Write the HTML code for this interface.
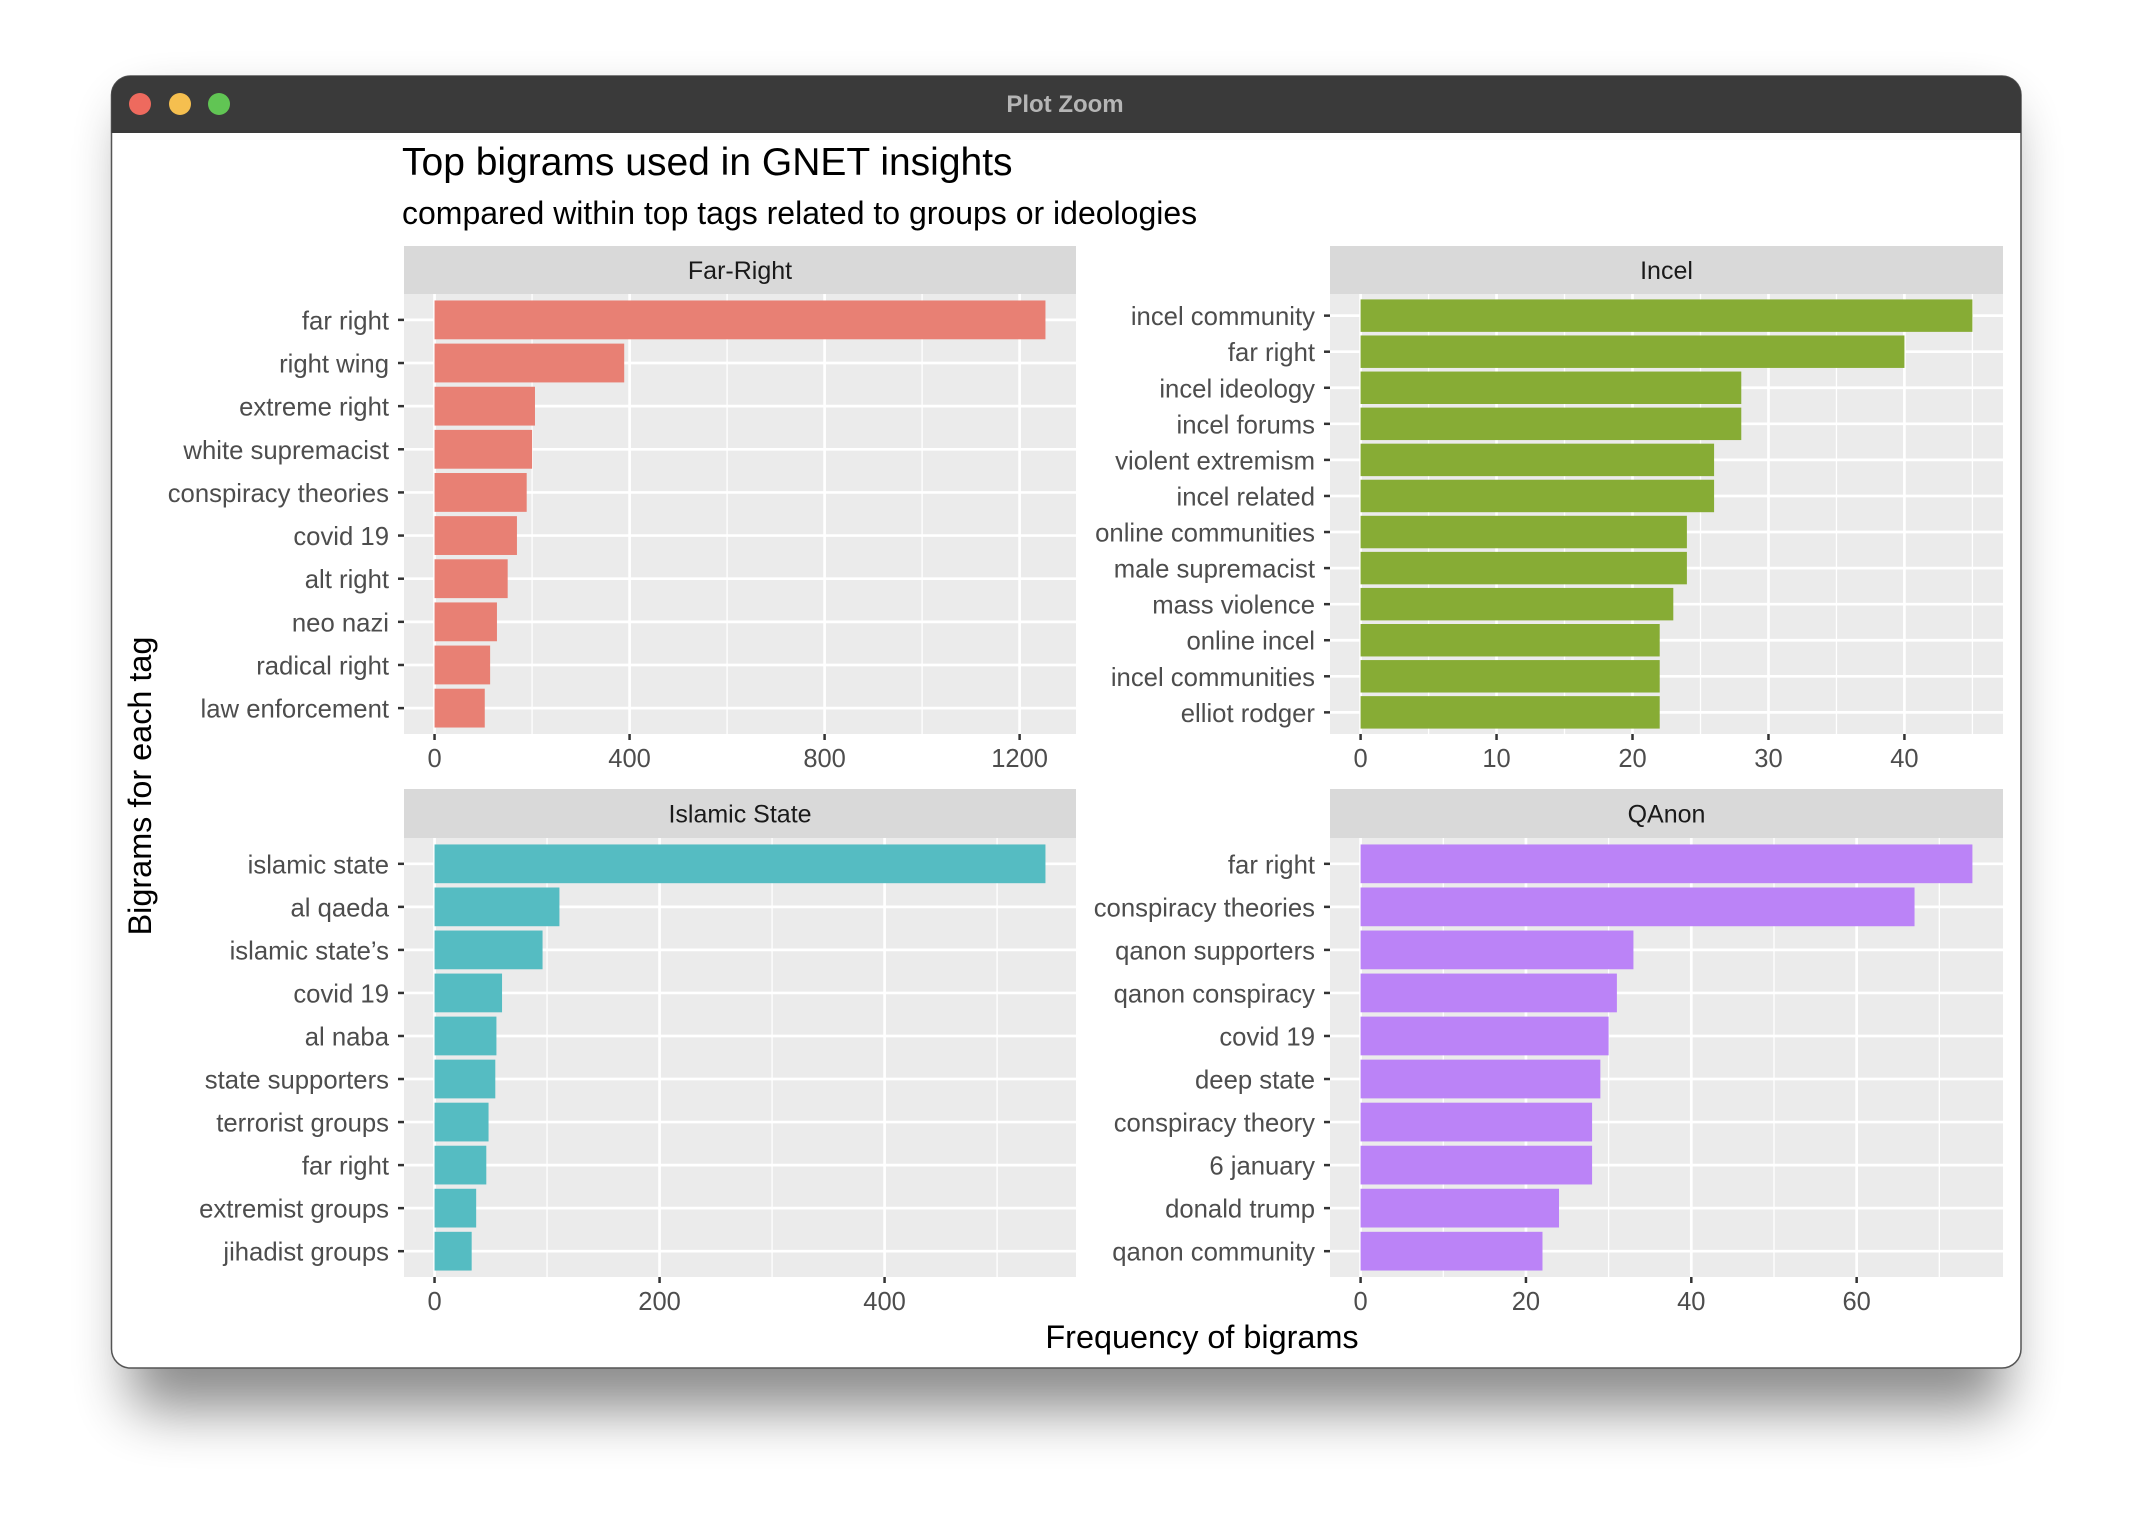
<!DOCTYPE html>
<html><head><meta charset="utf-8"><style>
html,body{margin:0;padding:0;background:#fff;}
svg{display:block;font-family:"Liberation Sans",Arial,sans-serif;}
</style></head><body>
<svg id="c" width="2132" height="1518" viewBox="0 0 2132 1518" xmlns="http://www.w3.org/2000/svg">
<defs>
<filter id="sh" x="-10%" y="-10%" width="120%" height="130%"><feGaussianBlur stdDeviation="28"/></filter>
</defs>
<rect x="130" y="110" width="1875" height="1300" rx="20" fill="#000" opacity="0.45" filter="url(#sh)"/>
<rect x="111.5" y="76" width="1909.5" height="1292" rx="19" fill="#fff" stroke="#555" stroke-width="1.5"/>
<path d="M111.5,133 V95 A19,19 0 0 1 130.5,76 H2002 A19,19 0 0 1 2021,95 V133 Z" fill="#3a3a3a"/>
<circle cx="140" cy="104" r="11" fill="#ee6a5e"/>
<circle cx="180" cy="104" r="11" fill="#f5bf4f"/>
<circle cx="219" cy="104" r="11" fill="#61c554"/>
<text x="1065" y="112" text-anchor="middle" font-size="24" font-weight="bold" fill="#b5b5b5">Plot Zoom</text>
<text x="402" y="175" font-size="39" fill="#000">Top bigrams used in GNET insights</text>
<text x="402" y="224" font-size="32" fill="#000">compared within top tags related to groups or ideologies</text>
<text x="1202" y="1348" text-anchor="middle" font-size="32.4" fill="#000">Frequency of bigrams</text>
<text transform="translate(151,786) rotate(-90)" text-anchor="middle" font-size="32.4" fill="#000">Bigrams for each tag</text>
<g id="panels"></g>
</svg>
<script>
const farRightCats = ["far right","right wing","extreme right","white supremacist","conspiracy theories","covid 19","alt right","neo nazi","radical right","law enforcement"];
const farRightVals = [1253,389,206,200,189,169,150,128,114,103];
const farRightTicks = [0,400,800,1200];
const farRightMinor = [200,600,1000];
const incelCats = ["incel community","far right","incel ideology","incel forums","violent extremism","incel related","online communities","male supremacist","mass violence","online incel","incel communities","elliot rodger"];
const incelVals = [45,40,28,28,26,26,24,24,23,22,22,22];
const incelTicks = [0,10,20,30,40];
const incelMinor = [5,15,25,35,45];
const isCats = ["islamic state","al qaeda","islamic state’s","covid 19","al naba","state supporters","terrorist groups","far right","extremist groups","jihadist groups"];
const isVals = [543,111,96,60,55,54,48,46,37,33];
const isTicks = [0,200,400];
const isMinor = [100,300,500];
const qCats = ["far right","conspiracy theories","qanon supporters","qanon conspiracy","covid 19","deep state","conspiracy theory","6 january","donald trump","qanon community"];
const qVals = [74,67,33,31,30,29,28,28,24,22];
const qTicks = [0,20,40,60];
const qMinor = [10,30,50,70];

const NS="http://www.w3.org/2000/svg";
const root=document.getElementById('panels');
function mk(tag,attrs,parent){const e=document.createElementNS(NS,tag);for(const k in attrs)e.setAttribute(k,attrs[k]);(parent||root).appendChild(e);return e;}

function panel(name,title,cats,vals,ticks,minor,color,x0,x1,sy0,sy1,py1){
  const g=mk('g',{});
  
  
  const strip=mk('rect',{x:x0,y:sy0,width:x1-x0,height:sy1-sy0,fill:'#d9d9d9'},g);
  
  
  const st=mk('text',{x:(x0+x1)/2,y:(sy0+sy1)/2+9,'text-anchor':'middle','font-size':25,fill:'#1a1a1a'},g);
  st.textContent=title;
  
  
  const py0=sy1;
  const bg=mk('rect',{x:x0,y:py0,width:x1-x0,height:py1-py0,fill:'#ebebeb'},g);
  
  
  const maxV=Math.max(...vals);
  const dmin=-0.05*maxV, dmax=1.05*maxV;
  const xs=v=>x0+(v-dmin)/(dmax-dmin)*(x1-x0);
  const n=cats.length;
  const ys=i=>py0+(i+1-0.4)/(n+0.2)*(py1-py0);
  const unit=(py1-py0)/(n+0.2);
  minor.forEach(v=>{if(xs(v)<x1){const l=mk('line',{x1:xs(v),x2:xs(v),y1:py0,y2:py1,stroke:'#fff','stroke-width':1.3},g);
    
    }});
  ticks.forEach(v=>{const l=mk('line',{x1:xs(v),x2:xs(v),y1:py0,y2:py1,stroke:'#fff','stroke-width':2.7},g);
    
    });
  cats.forEach((c,i)=>{const l=mk('line',{x1:x0,x2:x1,y1:ys(i),y2:ys(i),stroke:'#fff','stroke-width':2.7},g);
    
    });
  cats.forEach((c,i)=>{
    const b=mk('rect',{x:xs(0),y:ys(i)-0.45*unit,width:xs(vals[i])-xs(0),height:0.9*unit,fill:color},g);
    
    
    const t=mk('line',{x1:x0-6,x2:x0,y1:ys(i),y2:ys(i),stroke:'#333','stroke-width':2.5},g);
    
    
    const lb=mk('text',{x:x0-15,y:ys(i)+9.5,'text-anchor':'end','font-size':25.7,fill:'#4d4d4d'},g);
    lb.textContent=c;
    
    
  });
  ticks.forEach(v=>{
    const t=mk('line',{x1:xs(v),x2:xs(v),y1:py1,y2:py1+6,stroke:'#333','stroke-width':2.5},g);
    
    
    const lb=mk('text',{x:xs(v),y:py1+33,'text-anchor':'middle','font-size':25.5,fill:'#4d4d4d'},g);
    lb.textContent=v;
    
    
  });
}
panel('far-right','Far-Right',farRightCats,farRightVals,farRightTicks,farRightMinor,'#E88074',404,1076,246,294,734);
panel('incel','Incel',incelCats,incelVals,incelTicks,incelMinor,'#87AC35',1330,2003,246,294,734);
panel('islamic-state','Islamic State',isCats,isVals,isTicks,isMinor,'#55BCC2',404,1076,789,838,1277);
panel('qanon','QAnon',qCats,qVals,qTicks,qMinor,'#BB83F7',1330,2003,789,838,1277);
</script>
</body></html>
